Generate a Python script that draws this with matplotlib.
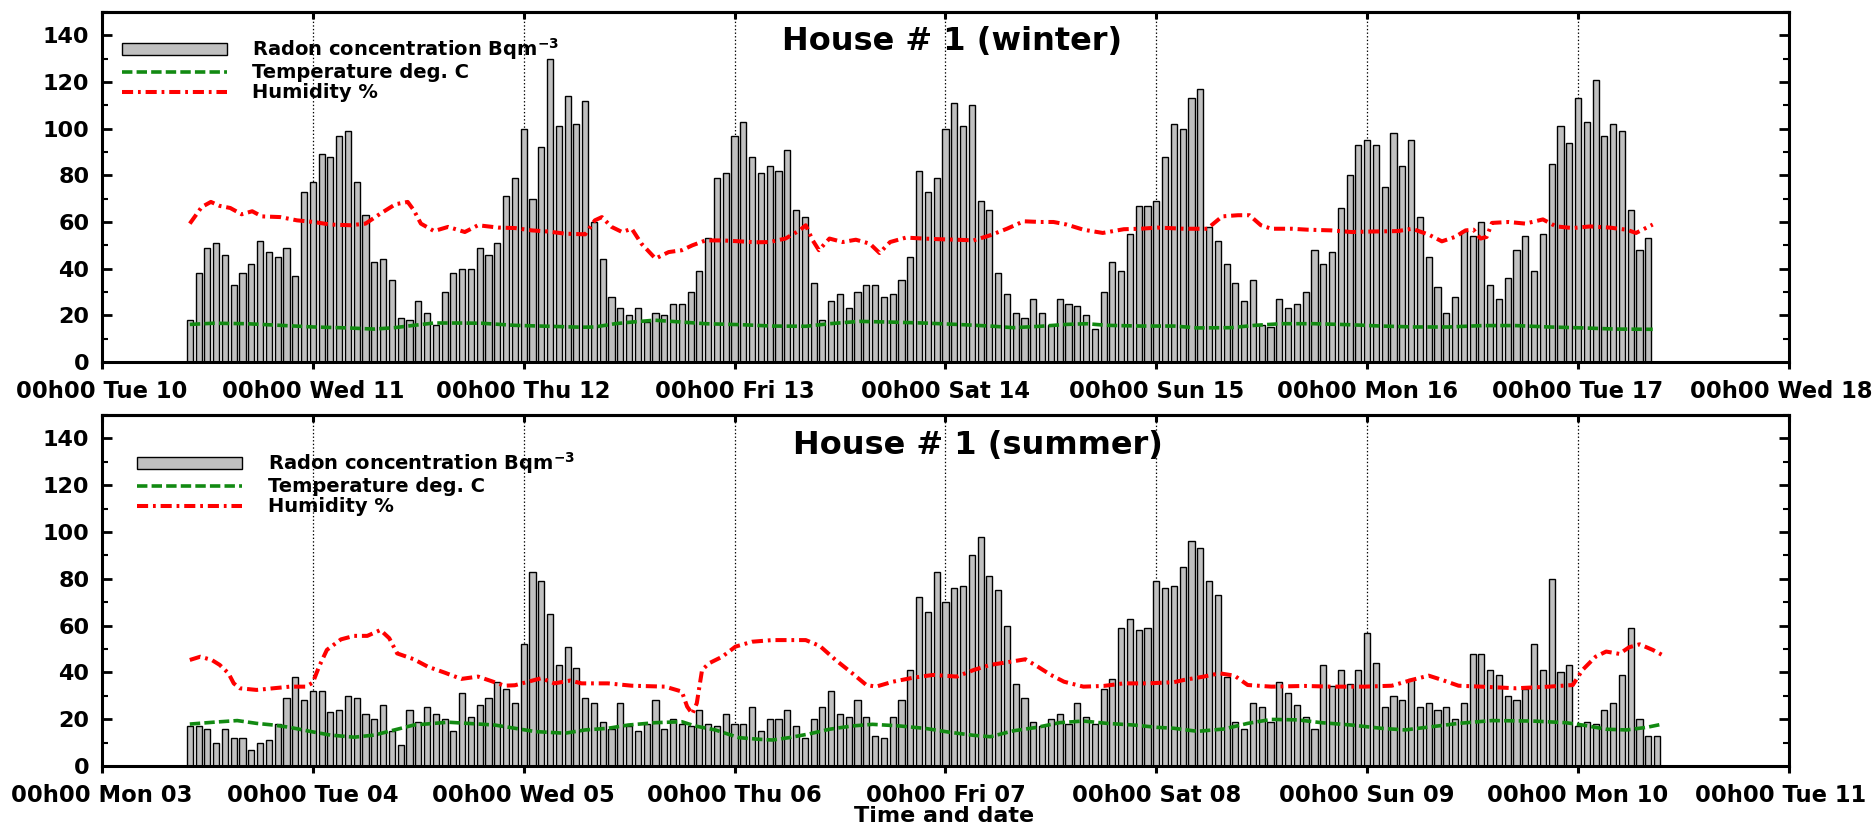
import numpy as np
import matplotlib.pyplot as plt
from matplotlib.patches import Patch
from matplotlib.lines import Line2D
from matplotlib.ticker import MultipleLocator
from matplotlib.transforms import ScaledTranslation

plt.rcParams['font.family'] = 'DejaVu Sans'
plt.rcParams['font.weight'] = 'bold'
plt.rcParams['mathtext.default'] = 'bf'
plt.rcParams['lines.scale_dashes'] = False

# hourly radon readings, first bar at 10h00 on the first day
START_HOUR = 10

radon_winter = [18, 38, 49, 51, 46, 33, 38, 42, 52, 47,
                45, 49, 37, 73, 77, 89, 88, 97, 99, 77,
                63, 43, 44, 35, 19, 18, 26, 21, 16, 30,
                38, 40, 40, 49, 46, 51, 71, 79, 100, 70,
                92, 130, 101, 114, 102, 112, 60, 44, 28, 23,
                20, 23, 17, 21, 20, 25, 25, 30, 39, 53,
                79, 81, 97, 103, 88, 81, 84, 82, 91, 65,
                62, 34, 18, 26, 29, 23, 30, 33, 33, 28,
                29, 35, 45, 82, 73, 79, 100, 111, 101, 110,
                69, 65, 38, 29, 21, 19, 27, 21, 16, 27,
                25, 24, 20, 14, 30, 43, 39, 55, 67, 67,
                69, 88, 102, 100, 113, 117, 58, 52, 42, 34,
                26, 35, 16, 15, 27, 23, 25, 30, 48, 42,
                47, 66, 80, 93, 95, 93, 75, 98, 84, 95,
                62, 45, 32, 21, 28, 56, 54, 60, 33, 27,
                36, 48, 54, 39, 55, 85, 101, 94, 113, 103,
                121, 97, 102, 99, 65, 48, 53]

radon_summer = [17, 17, 16, 10, 16, 12, 12, 7, 10, 11,
                18, 29, 38, 28, 32, 32, 23, 24, 30, 29,
                22, 20, 26, 15, 9, 24, 19, 25, 22, 20,
                15, 31, 21, 26, 29, 36, 33, 27, 52, 83,
                79, 65, 43, 51, 42, 29, 27, 19, 16, 27,
                17, 15, 18, 28, 16, 20, 18, 17, 24, 18,
                17, 22, 18, 18, 25, 15, 20, 20, 24, 17,
                12, 20, 25, 32, 22, 21, 28, 21, 13, 12,
                21, 28, 41, 72, 66, 83, 70, 76, 77, 90,
                98, 81, 75, 60, 35, 29, 19, 17, 20, 22,
                18, 27, 21, 18, 33, 37, 59, 63, 58, 59,
                79, 76, 77, 85, 96, 93, 79, 73, 38, 19,
                16, 27, 25, 19, 36, 31, 26, 21, 16, 43,
                34, 41, 35, 41, 57, 44, 25, 30, 28, 37,
                25, 27, 24, 25, 20, 27, 48, 48, 41, 39,
                30, 28, 33, 52, 41, 80, 40, 43, 17, 19,
                18, 24, 27, 39, 59, 20, 13, 13]

# temperature / humidity samples: hours since 00h00 of the first day
temp_winter_h = [10.0, 12.7, 16.5, 20.3, 24.1, 27.9, 31.0, 33.3, 35.5, 37.8,
                 40.5, 43.2, 47.0, 50.8, 54.6, 56.1, 58.4, 60.3, 62.9, 66.0,
                 68.7, 72.6, 76.3, 80.1, 82.8, 86.2, 89.7, 93.5, 97.3, 101.1,
                 103.7, 106.8, 109.8, 112.1, 114.4, 118.2, 122.0, 124.7, 128.5, 131.2,
                 134.2, 138.0, 141.8, 145.6, 149.4, 153.3, 157.1, 160.9, 164.7, 168.5,
                 172.3, 176.5]
temp_winter = [16.1, 16.6, 16.4, 15.7, 15.0, 14.6, 14.1, 14.7, 15.7, 16.7,
               16.7, 16.6, 15.7, 15.3, 14.9, 15.0, 16.4, 17.1, 17.9, 17.1,
               16.4, 16.0, 15.4, 15.3, 16.4, 17.4, 17.1, 16.7, 16.1, 15.4,
               14.7, 15.3, 16.1, 16.4, 15.7, 15.4, 15.4, 14.6, 14.7, 15.7,
               16.4, 16.4, 16.0, 15.4, 15.0, 15.0, 15.6, 15.6, 15.0, 14.6,
               14.1, 14.0]

hum_winter_h = [10.0, 11.35, 12.4, 13.4, 14.6, 15.9, 17.1, 18.2, 20.3, 22.2,
                24.1, 26.0, 28.3, 30.0, 31.7, 33.4, 34.8, 35.5, 36.3, 37.8,
                39.4, 41.3, 42.8, 45.1, 47.0, 48.9, 50.8, 52.7, 55.0, 56.1,
                56.9, 58.0, 59.2, 60.3, 61.4, 63.0, 64.5, 66.0,
                67.2, 68.7, 70.6, 72.6, 74.4, 76.0, 77.8, 79.4, 80.1, 80.9,
                81.6, 82.8, 84.3, 85.8, 87.4, 88.5, 89.7, 91.5, 93.5, 95.4,
                97.3, 99.2, 101.1, 103.0, 104.9, 106.8, 108.3, 109.8, 111.7, 113.9,
                116.3, 118.2, 120.1,
                123.2, 125.8, 127.5, 129.3, 130.6, 131.9, 133.1, 135.4, 137.2, 139.9,
                142.2, 144.5, 147.5, 149.1, 151.0, 152.5, 154.0, 155.2, 156.1, 156.9,
                157.6, 158.2, 160.1, 162.0, 164.0, 165.5, 167.4, 169.4, 171.6, 173.5,
                174.6, 176.5]
hum_winter = [59.3, 66.4, 68.6, 66.9, 66.0, 63.3, 64.6, 62.4, 62.1, 60.7,
              60.0, 58.9, 58.6, 59.3, 63.6, 67.6, 68.6, 65.0, 59.3, 56.1,
              57.9, 55.7, 58.6, 57.6, 57.4, 56.4, 55.9, 55.0, 54.7, 60.7,
              62.1, 57.9, 55.7, 57.1, 50.7, 44.3, 47.1, 47.9,
              50.0, 52.1, 52.1, 51.7, 51.3, 51.4, 52.9, 56.4, 58.6, 52.1,
              47.9, 52.9, 51.4, 52.4, 50.7, 46.7, 51.4, 53.3, 52.9, 52.6,
              52.4, 52.1, 54.3, 57.1, 60.3, 60.0, 60.0, 58.9, 56.7, 55.3,
              56.9, 57.1, 57.6,
              57.1, 57.1, 62.4, 62.9, 62.9, 58.6, 57.1, 57.1, 56.7, 56.4,
              55.7, 55.9, 56.1, 57.1, 54.6, 51.7, 53.6, 56.4, 56.7, 52.9,
              53.6, 59.6, 60.0, 59.3, 61.1, 58.1, 57.4, 58.1, 57.6, 56.7,
              55.3, 58.9]

temp_summer_h = [10.0, 12.7, 15.4, 17.6, 19.5, 21.4, 23.8, 26.0, 28.7, 31.0,
                 33.3, 35.5, 37.8, 39.4, 41.6, 44.7, 47.0, 49.3, 52.7, 55.0,
                 57.6, 59.9, 63.0, 66.0,
                 67.5, 69.8, 72.5, 74.8, 76.3, 78.2, 80.5, 82.8, 85.4, 87.7,
                 90.8, 93.8, 96.5, 99.2, 101.1, 103.7, 106.4, 109.0, 111.7, 114.4,
                 117.4, 120.1, 122.0,
                 124.7, 127.7, 130.4, 133.1, 136.1, 138.8, 142.2, 145.6, 148.3, 151.4,
                 154.4, 158.2, 162.8, 166.6, 168.5, 171.2, 173.5, 175.8, 177.5]
temp_summer = [17.9, 18.7, 19.4, 18.2, 17.5, 16.5, 14.7, 13.2, 12.3, 13.2,
               15.4, 17.5, 18.2, 18.7, 18.2, 17.5, 16.1, 14.7, 14.0, 15.4,
               16.1, 17.5, 18.5, 18.9,
               17.1, 15.4, 12.1, 11.4, 11.1, 12.1, 13.7, 15.7, 17.1, 17.8,
               17.1, 16.0, 14.4, 13.1, 12.5, 15.0, 16.5, 18.5, 19.2, 18.2,
               17.5, 16.5, 16.1,
               14.8, 15.8, 18.2, 19.9, 19.7, 18.5, 17.5, 16.1, 15.4, 16.8,
               18.2, 19.4, 19.2, 18.5, 17.5, 15.7, 15.4, 16.5, 17.8]

hum_summer_h = [10.0, 11.2, 12.5, 13.4, 14.4, 15.0, 15.7, 17.6, 19.5, 21.4,
                23.2, 24.0, 24.7, 25.6, 27.2, 28.7, 30.2, 31.7, 32.7, 33.6,
                35.5, 37.1, 39.0, 40.9, 42.8, 44.3, 45.8, 47.0, 48.5, 50.0,
                51.5, 53.3, 54.6, 57.6, 60.3, 64.1,
                66.0, 66.6, 67.2, 67.7, 68.3, 69.1, 70.6, 72.1, 74.0, 76.3,
                78.2, 80.1, 81.7, 83.5, 85.4, 87.0, 88.1, 90.0, 92.3, 94.6,
                97.3, 99.2, 101.1, 103.0, 105.1, 106.4, 108.0, 109.5, 111.7, 114.0,
                116.3, 119.0, 122.0,
                123.2, 125.4, 127.2, 128.9, 130.4, 133.1, 136.9, 139.9, 143.7, 146.8,
                149.1, 151.0, 152.5, 154.4, 157.0, 160.9, 164.7, 167.4, 168.5, 170.0,
                171.2, 172.7, 173.8, 175.0, 176.5, 177.6]
hum_summer = [45.3, 46.7, 45.3, 43.2, 39.6, 35.3, 33.2, 32.5, 33.2, 33.9,
              33.9, 35.6, 42.4, 49.6, 54.1, 55.6, 55.6, 58.1, 54.6, 48.1,
              45.6, 42.4, 39.9, 37.2, 38.2, 36.3, 34.3, 34.5, 36.0, 37.5,
              35.3, 36.5, 35.3, 35.3, 34.3, 33.9,
              31.8, 25.4, 22.2, 26.8, 41.0, 43.9, 46.7, 51.0, 53.1, 53.8,
              53.8, 53.8, 51.3, 45.3, 39.6, 34.6, 33.9, 36.0, 37.7, 38.9,
              38.2, 41.0, 43.2, 44.3, 45.6, 42.7, 38.9, 36.0, 33.9, 34.2,
              35.3, 35.3, 35.8,
              36.8, 38.2, 39.6, 38.6, 34.6, 33.9, 34.2, 33.9, 33.9, 34.3,
              36.8, 38.6, 36.8, 34.3, 33.9, 33.2, 33.9, 34.6, 41.0, 46.7,
              48.9, 47.9, 50.7, 52.0, 49.6, 47.4]

days_winter = ['00h00 Tue 10', '00h00 Wed 11', '00h00 Thu 12', '00h00 Fri 13',
               '00h00 Sat 14', '00h00 Sun 15', '00h00 Mon 16', '00h00 Tue 17',
               '00h00 Wed 18']
days_summer = ['00h00 Mon 03', '00h00 Tue 04', '00h00 Wed 05', '00h00 Thu 06',
               '00h00 Fri 07', '00h00 Sat 08', '00h00 Sun 09', '00h00 Mon 10',
               '00h00 Tue 11']

series_labels = ['Radon concentration Bqm$^{-3}$', 'Temperature deg. C', 'Humidity %']

BAR_COLOR = '#c0c0c0'
TEMP_COLOR = '#128a12'
HUM_COLOR = '#ff0000'
TEMP_DASH = (7.5, 3.0)
HUM_DASH = (8.0, 3.5, 2.0, 3.5)


def draw_panel(ax, radon, t_h, t_v, h_h, h_v, day_labels, title, title_xy, leg_xy):
    hours = np.arange(len(radon)) + START_HOUR
    for d in range(1, 8):
        ax.axvline(24 * d, color='black', lw=0.9, ls=(0, (1, 1.6)), zorder=1)
    ax.bar(hours, radon, width=0.7, color=BAR_COLOR, edgecolor='black',
           linewidth=1.0, zorder=2)
    ax.plot(t_h, t_v, color=TEMP_COLOR, lw=2.6, dashes=TEMP_DASH, zorder=3)
    ax.plot(h_h, h_v, color=HUM_COLOR, lw=2.9, dashes=HUM_DASH, zorder=3)

    ax.set_xlim(0, 192)
    ax.set_ylim(0, 150)
    ax.set_xticks(np.arange(0, 193, 24))
    ax.set_xticklabels(day_labels)
    ax.tick_params(axis='x', direction='out', length=5, width=2.2, pad=8,
                   labelsize=16.3)
    # keep the last date label inside the figure edge
    last = ax.get_xticklabels()[-1]
    last.set_transform(last.get_transform()
                       + ScaledTranslation(-0.08, 0, ax.figure.dpi_scale_trans))
    top = ax.secondary_xaxis('top')
    top.set_xticks(np.arange(0, 193, 24))
    top.set_xticklabels([])
    top.tick_params(direction='in', length=5, width=2.2)
    top.spines['top'].set_linewidth(2.2)

    ax.yaxis.set_major_locator(MultipleLocator(20))
    ax.yaxis.set_minor_locator(MultipleLocator(10))
    ax.tick_params(axis='y', which='both', direction='in', left=True, right=True,
                   labelsize=16, pad=9)
    ax.tick_params(axis='y', which='major', length=7, width=2)
    ax.tick_params(axis='y', which='minor', length=4, width=1.5)
    for sp in ax.spines.values():
        sp.set_linewidth(2.2)

    ax.text(title_xy[0], title_xy[1], title, transform=ax.transAxes,
            ha='center', va='center', fontsize=23, fontweight='bold')

    handles = [Patch(facecolor=BAR_COLOR, edgecolor='black', linewidth=1.0),
               Line2D([], [], color=TEMP_COLOR, lw=2.6, dashes=TEMP_DASH),
               Line2D([], [], color=HUM_COLOR, lw=2.9, dashes=HUM_DASH)]
    ax.legend(handles, series_labels, loc='upper left', bbox_to_anchor=leg_xy,
              frameon=False, fontsize=14, handlelength=5.4, handleheight=0.55,
              handletextpad=1.3, labelspacing=0.05, borderpad=0, borderaxespad=0)


fig = plt.figure(figsize=(18.74, 8.27), dpi=100)
ax1 = fig.add_axes([0.0544, 0.5623, 0.9002, 0.4232])
ax2 = fig.add_axes([0.0544, 0.0738, 0.9002, 0.4244])

draw_panel(ax1, radon_winter, temp_winter_h, temp_winter, hum_winter_h, hum_winter,
           days_winter, 'House # 1 (winter)', (0.504, 0.917), (0.012, 0.93))
draw_panel(ax2, radon_summer, temp_summer_h, temp_summer, hum_summer_h, hum_summer,
           days_summer, 'House # 1 (summer)', (0.519, 0.912), (0.021, 0.9))

fig.text(0.504, 0.0133, 'Time and date', ha='center', va='center',
         fontsize=16, fontweight='bold')

fig.savefig('out.png', dpi=100)
